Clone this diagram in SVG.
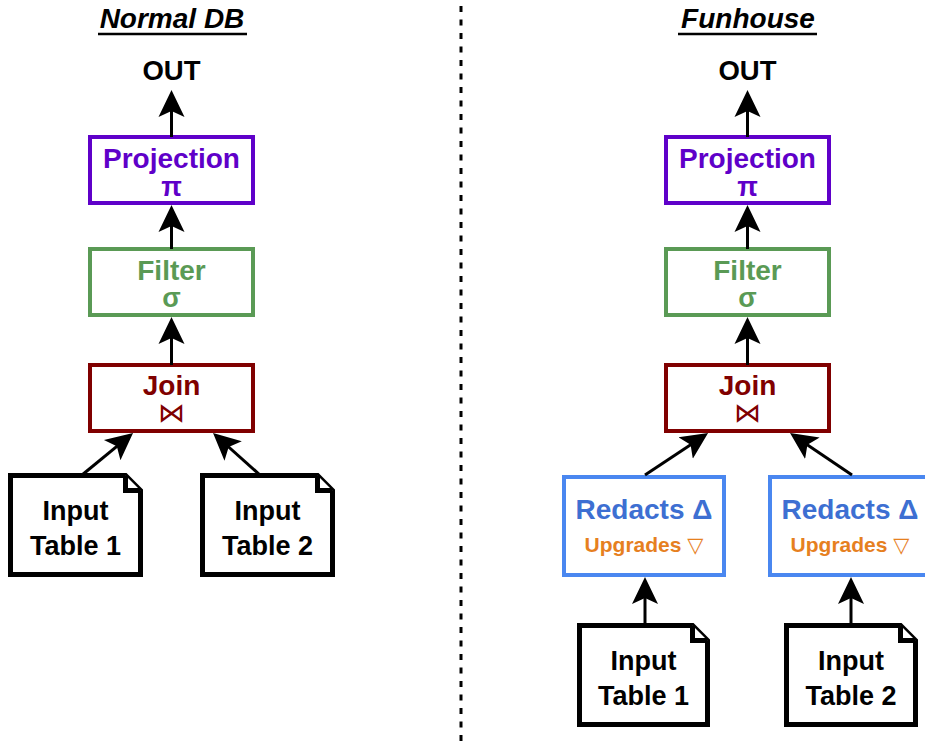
<svg xmlns="http://www.w3.org/2000/svg" width="925" height="744" viewBox="0 0 925 744">
  <style>
    text { font-family: "Liberation Sans", Arial, "DejaVu Sans", sans-serif; font-weight: bold; text-anchor: middle; }
    .title { font-size: 28px; font-style: italic; fill: #000; }
    .out { font-size: 27.5px; fill: #000; }
    .lbl { font-size: 27px; }
    .big { font-size: 28px; }
    .op { fill: #fff; stroke-width: 4; }
    .proj { stroke: #5f00c9; }
    .projT { fill: #5f00c9; }
    .filt { stroke: #5a9a55; }
    .filtT { fill: #5a9a55; }
    .join { stroke: #800000; }
    .joinT { fill: #800000; }
    .red { stroke: #4a87f0; }
    .redT { fill: #3d6fd2; }
    .upgT { fill: #e6801f; font-size: 21px; }
    .doc { fill: #fff; stroke: #000; stroke-width: 5; stroke-linejoin: miter; }
    .edge { stroke: #000; stroke-width: 3; fill: none; marker-end: url(#head); }
    .sym { font-family: "DejaVu Sans", sans-serif; font-weight: normal; font-size: 27px; }
  </style>
  <defs>
    <!-- notched arrowhead; tip sits 6px beyond the line end -->
    <marker id="head" viewBox="0 0 28 28" refX="21" refY="14" markerWidth="28" markerHeight="28" markerUnits="userSpaceOnUse" orient="auto">
      <path d="M27,14 L0,1 L6,14 L0,27 Z" fill="#000"/>
    </marker>
  </defs>

  <rect width="925" height="744" fill="#fff"/>

  <!-- divider -->
  <line x1="461" y1="6" x2="461" y2="744" stroke="#000" stroke-width="3" stroke-dasharray="6 7.5"/>

  <!-- headings -->
  <g id="title-normal">
    <text class="title" x="172" y="28">Normal DB</text>
    <line x1="98" y1="34" x2="247" y2="34" stroke="#000" stroke-width="2.5"/>
  </g>
  <g id="title-funhouse">
    <text class="title" x="748" y="28">Funhouse</text>
    <line x1="678" y1="34" x2="817" y2="34" stroke="#000" stroke-width="2.5"/>
  </g>

  <!-- Normal DB plan -->
  <g id="out-left"><text class="out" x="171.5" y="80">OUT</text></g>
  <g id="projection-left">
    <rect class="op proj" x="90" y="137" width="163" height="66"/>
    <text class="big projT" x="171.5" y="168">Projection</text>
    <text class="lbl projT" x="171.5" y="196">π</text>
  </g>
  <g id="filter-left">
    <rect class="op filt" x="90" y="249" width="163" height="66"/>
    <text class="big filtT" x="171.5" y="280">Filter</text>
    <text class="lbl filtT" x="171.5" y="307">σ</text>
  </g>
  <g id="join-left">
    <rect class="op join" x="90" y="365" width="163" height="66"/>
    <text class="big joinT" x="171.5" y="395">Join</text>
    <text class="joinT sym" x="171.5" y="422">⋈</text>
  </g>
  <g id="input1-left">
    <path class="doc" d="M10.5,475.5 H125.5 L140.5,490.5 V574.5 H10.5 Z"/>
    <path class="doc" d="M125.5,475.5 V490.5 H140.5" fill="none"/>
    <text class="lbl" x="75.5" y="520">Input</text>
    <text class="lbl" x="75.5" y="555">Table 1</text>
  </g>
  <g id="input2-left">
    <path class="doc" d="M202.5,475.5 H317.5 L332.5,490.5 V574.5 H202.5 Z"/>
    <path class="doc" d="M317.5,475.5 V490.5 H332.5" fill="none"/>
    <text class="lbl" x="267.5" y="520">Input</text>
    <text class="lbl" x="267.5" y="555">Table 2</text>
  </g>

  <!-- Funhouse plan -->
  <g id="out-right"><text class="out" x="747.5" y="80">OUT</text></g>
  <g id="projection-right">
    <rect class="op proj" x="666" y="137" width="163" height="66"/>
    <text class="big projT" x="747.5" y="168">Projection</text>
    <text class="lbl projT" x="747.5" y="196">π</text>
  </g>
  <g id="filter-right">
    <rect class="op filt" x="666" y="249" width="163" height="66"/>
    <text class="big filtT" x="747.5" y="280">Filter</text>
    <text class="lbl filtT" x="747.5" y="307">σ</text>
  </g>
  <g id="join-right">
    <rect class="op join" x="666" y="365" width="163" height="66"/>
    <text class="big joinT" x="747.5" y="395">Join</text>
    <text class="joinT sym" x="747.5" y="422">⋈</text>
  </g>
  <g id="redacts-1">
    <rect class="op red" x="564" y="477" width="160" height="98"/>
    <text class="big redT" x="644" y="519">Redacts Δ</text>
    <text class="upgT" x="644" y="552">Upgrades ▽</text>
  </g>
  <g id="redacts-2">
    <rect class="op red" x="770" y="477" width="160" height="98"/>
    <text class="big redT" x="850" y="519">Redacts Δ</text>
    <text class="upgT" x="850" y="552">Upgrades ▽</text>
  </g>
  <g id="input1-right">
    <path class="doc" d="M579.5,625.5 H692.5 L707.5,640.5 V724.5 H579.5 Z"/>
    <path class="doc" d="M692.5,625.5 V640.5 H707.5" fill="none"/>
    <text class="lbl" x="643.5" y="670">Input</text>
    <text class="lbl" x="643.5" y="705">Table 1</text>
  </g>
  <g id="input2-right">
    <path class="doc" d="M786.5,625.5 H900.5 L915.5,640.5 V724.5 H786.5 Z"/>
    <path class="doc" d="M900.5,625.5 V640.5 H915.5" fill="none"/>
    <text class="lbl" x="851" y="670">Input</text>
    <text class="lbl" x="851" y="705">Table 2</text>
  </g>

  <!-- connectors -->
  <g id="edges">
    <line class="edge" x1="171.5" y1="137" x2="171.5" y2="96"/>
    <line class="edge" x1="171.5" y1="249" x2="171.5" y2="211"/>
    <line class="edge" x1="171.5" y1="365" x2="171.5" y2="323"/>
    <line class="edge" x1="82" y1="475" x2="128.4" y2="436.8"/>
    <line class="edge" x1="260" y1="475" x2="217.5" y2="437"/>

    <line class="edge" x1="747.5" y1="137" x2="747.5" y2="96"/>
    <line class="edge" x1="747.5" y1="249" x2="747.5" y2="211"/>
    <line class="edge" x1="747.5" y1="365" x2="747.5" y2="323"/>
    <line class="edge" x1="645" y1="475" x2="703.1" y2="436.4"/>
    <line class="edge" x1="852" y1="475" x2="795" y2="436.4"/>
    <line class="edge" x1="645" y1="623" x2="645" y2="583"/>
    <line class="edge" x1="851" y1="623" x2="851" y2="583"/>
  </g>
</svg>
